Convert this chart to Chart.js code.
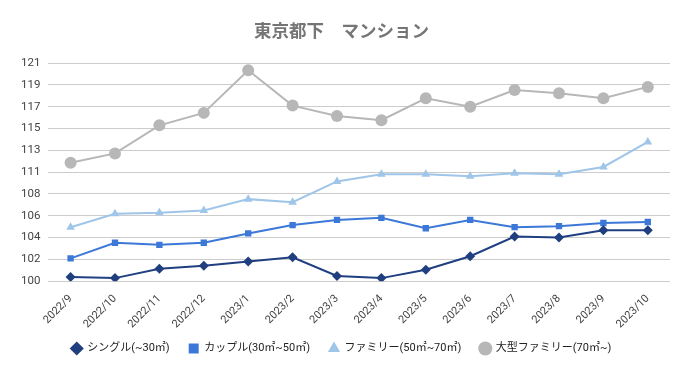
<!DOCTYPE html>
<html>
<head>
<meta charset="utf-8">
<script src="https://cdn.jsdelivr.net/npm/chart.js@4"></script>
<style>
  html, body { margin: 0; padding: 0; background: #fff; }
</style>
</head>
<body>
<canvas id="chart" width="688" height="371"></canvas>
<script>
// categories
const months = ['2022/9', '2022/10', '2022/11', '2022/12', '2023/1', '2023/2', '2023/3',
                '2023/4', '2023/5', '2023/6', '2023/7', '2023/8', '2023/9', '2023/10'];

// series values (index)
const single  = [100.4, 100.3, 101.2, 101.5, 101.9, 102.3, 100.5, 100.3, 101.1, 102.4, 104.3, 104.2, 104.9, 104.9];
const couple  = [102.2, 103.7, 103.5, 103.7, 104.6, 105.4, 105.9, 106.1, 105.1, 105.9, 105.2, 105.3, 105.6, 105.7];
const family  = [105.2, 106.5, 106.6, 106.8, 107.9, 107.6, 109.6, 110.3, 110.3, 110.1, 110.4, 110.3, 111.0, 113.4];
const large   = [111.4, 112.3, 115.0, 116.2, 120.3, 116.9, 115.9, 115.5, 117.6, 116.8, 118.4, 118.1, 117.6, 118.7];

const seriesNames = ['シングル(~30㎡)', 'カップル(30㎡~50㎡)', 'ファミリー(50㎡~70㎡)', '大型ファミリー(70㎡~)'];

// y axis: 100 to 121, step 2.1, labels rounded
const yMin = 100;
const yMax = 121;
const yStep = 2.1;

const font = "'Roboto', 'Noto Sans CJK JP', sans-serif";

// how much the x labels may run into the legend's space
const xOverlap = 10;

function makeSet(label, data, color, style, radius) {
    return {
        label: label,
        data: data,
        borderColor: color,
        backgroundColor: color,
        borderWidth: 2,
        pointStyle: style,
        pointRadius: radius,
        pointHoverRadius: radius,
        pointBorderWidth: 0,
        tension: 0
    };
}

// give the shrunk x axis its full height back after layout, so labels are not clipped
const unclipX = {
    id: 'unclipX',
    afterLayout(chart) {
        chart.scales.x.bottom += xOverlap;
    }
};

new Chart(document.getElementById('chart'), {
    type: 'line',
    data: {
        labels: months,
        datasets: [
            makeSet(seriesNames[0], single, '#1f3f80', 'rectRot', 5),
            makeSet(seriesNames[1], couple, '#3c78d8', 'rect', 4.5),
            makeSet(seriesNames[2], family, '#9fc5e8', 'triangle', 5),
            makeSet(seriesNames[3], large, '#b7b7b7', 'circle', 6)
        ]
    },
    plugins: [unclipX],
    options: {
        responsive: false,
        animation: false,
        layout: { padding: { left: 13, right: 18, top: 6, bottom: 7 } },
        plugins: {
            title: {
                display: true,
                text: '東京都下　マンション',
                color: '#757575',
                font: { family: "'Noto Sans CJK JP', sans-serif", size: 17.5, weight: 'bold' },
                padding: { top: 14, bottom: 22 }
            },
            legend: {
                position: 'bottom',
                labels: {
                    usePointStyle: true,
                    boxWidth: 10,
                    boxHeight: 10,
                    padding: 19,
                    color: '#222',
                    font: { family: font, size: 11 }
                }
            },
            tooltip: { enabled: false }
        },
        scales: {
            x: {
                offset: true,
                grid: { display: false },
                border: { display: false },
                afterFit: s => { s.height -= xOverlap; },
                ticks: {
                    minRotation: 45,
                    maxRotation: 45,
                    padding: 3,
                    color: '#444',
                    font: { family: font, size: 11 }
                }
            },
            y: {
                min: yMin,
                max: yMax,
                grid: { color: '#cccccc', drawTicks: false },
                border: { display: false },
                ticks: {
                    stepSize: yStep,
                    padding: 8,
                    color: '#444',
                    font: { family: font, size: 11.5 },
                    callback: v => Math.round(v)
                }
            }
        }
    }
});
</script>
</body>
</html>
